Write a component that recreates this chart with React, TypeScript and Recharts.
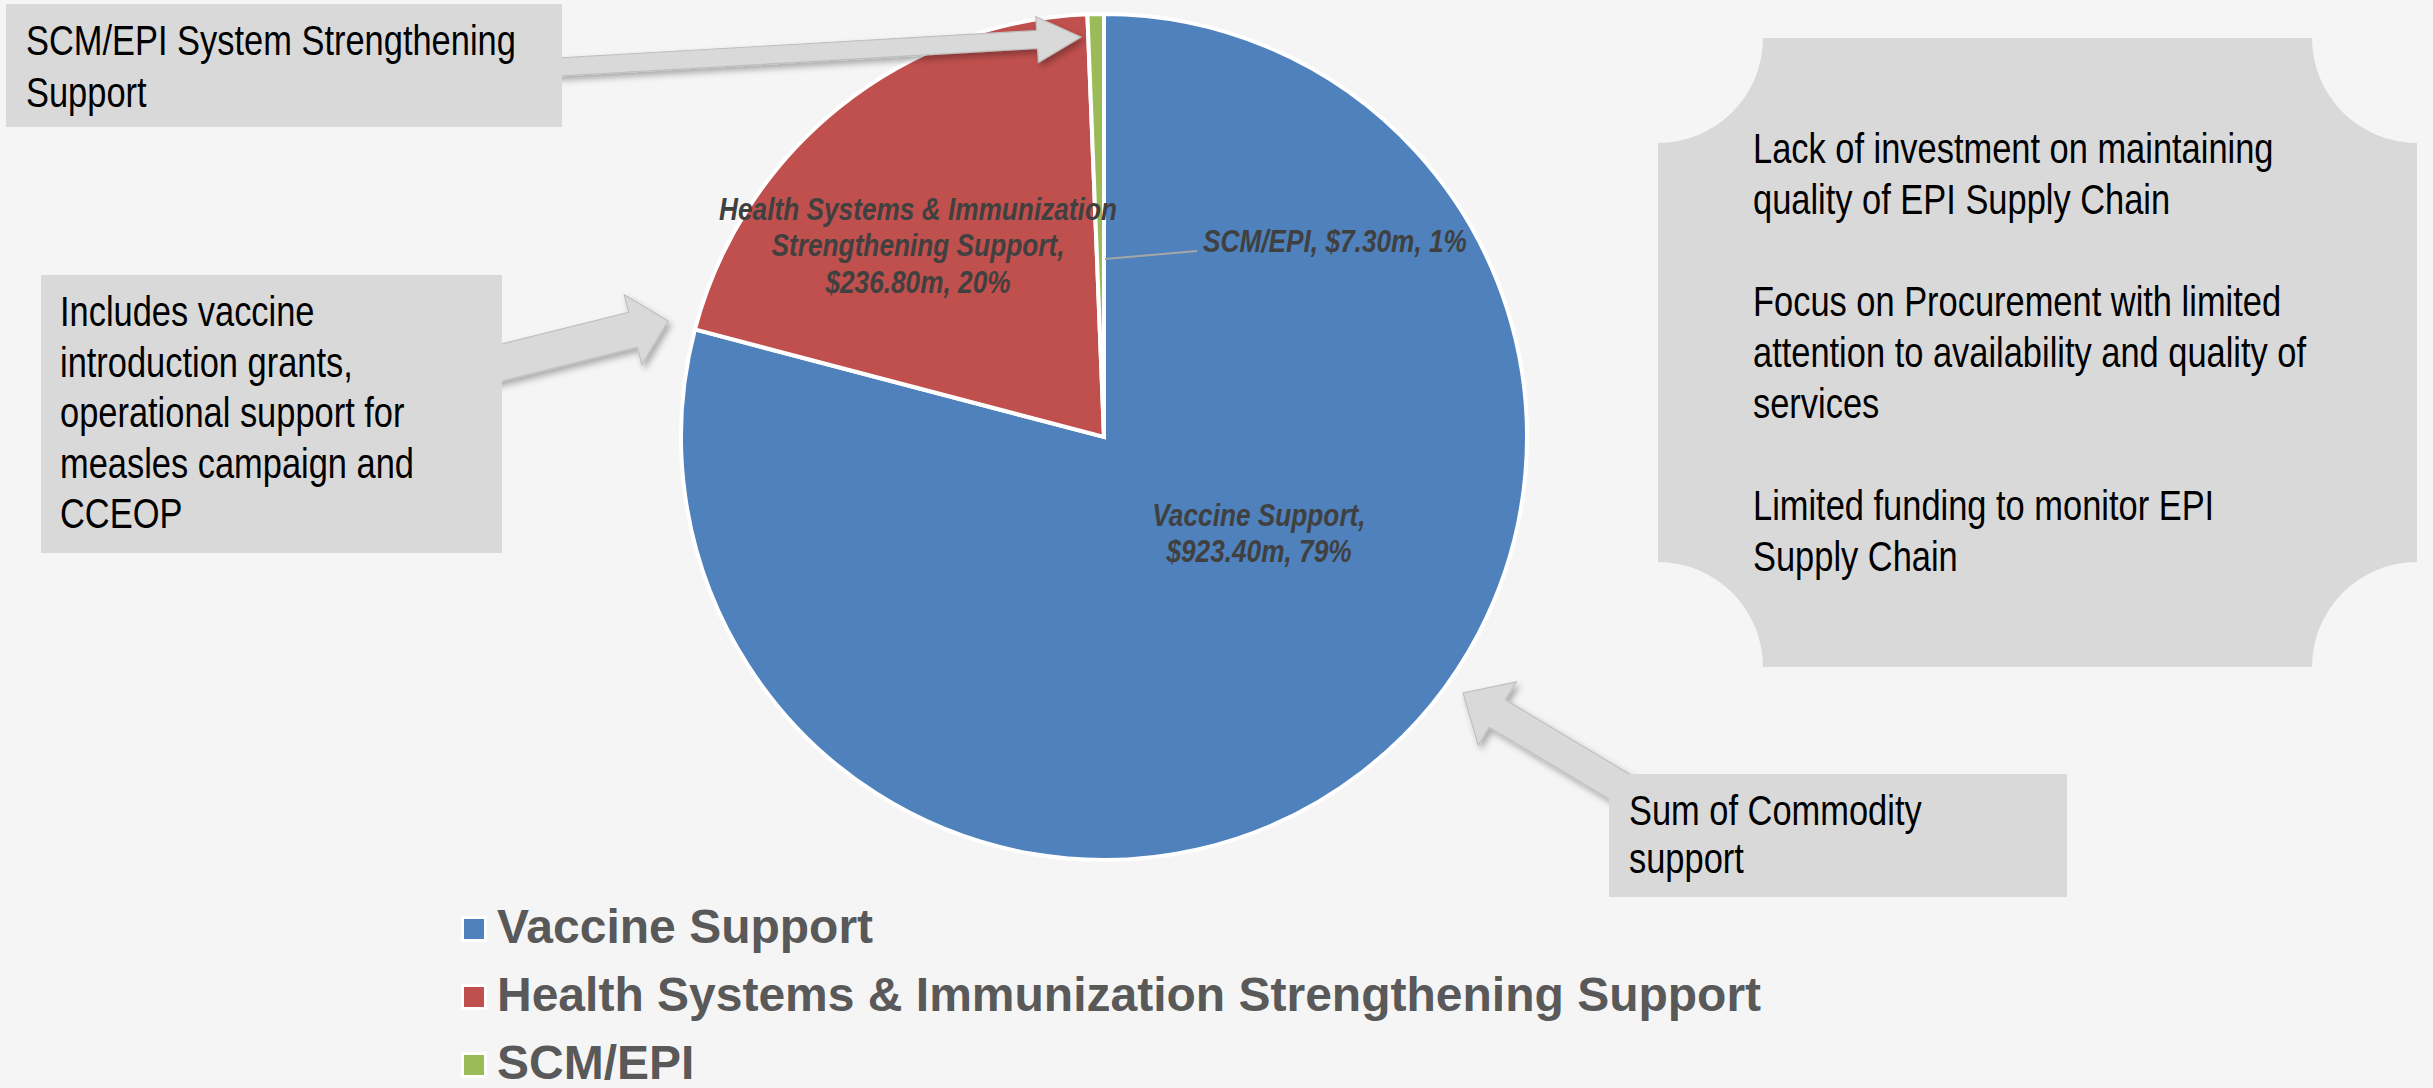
import React from "react";
import { PieChart, Pie, Cell, Legend } from "recharts";

const categories = [
  "Vaccine Support",
  "Health Systems & Immunization Strengthening Support",
  "SCM/EPI",
];
const amounts = [923.4, 236.8, 7.3];
const colors = ["#4f81bd", "#c0504d", "#9bbb59"];

// how each data label wraps (name part), value + percent is appended
const labelWrap = [
  ["Vaccine Support,"],
  ["Health Systems & Immunization", "Strengthening Support,"],
  ["SCM/EPI,"],
];

const W = 2433;
const H = 1088;
const SANS = "'Liberation Sans', Arial, sans-serif";
// no narrow face installed: squeeze Liberation Sans horizontally
const NARROW_X = 0.82;

const data = categories.map((name, i) => ({ name, value: amounts[i] }));

// label placement relative to the pie centre (px)
const labelPos = [
  { dx: 155, dy: 89, anchor: "middle", inline: false },
  { dx: -186, dy: -217, anchor: "middle", inline: false },
  { dx: 99, dy: -185, anchor: "start", inline: true },
];

const squeeze = (x: number) => `translate(${x} 0) scale(${NARROW_X} 1) translate(${-x} 0)`;

const renderLabel = (props: any) => {
  const { cx, cy, index, value, percent } = props;
  const p = labelPos[index];
  const money = `$${Number(value).toFixed(2)}m, ${Math.round(percent * 100)}%`;
  const name = labelWrap[index];
  const lines = p.inline ? [`${name.join(" ")} ${money}`] : [...name, money];
  const x = cx + p.dx;
  return (
    <g key={`lbl-${index}`}>
      {index === 2 && (
        <polyline
          points={`${cx + 1},${cy - 178} ${cx + 93},${cy - 186}`}
          fill="none"
          stroke="#a6a6a6"
          strokeWidth={2}
        />
      )}
      <text
        x={x}
        y={cy + p.dy}
        transform={squeeze(x)}
        textAnchor={p.anchor as any}
        fill="#404040"
        fontFamily={SANS}
        fontSize={32}
        fontWeight="bold"
        fontStyle="italic"
      >
        {lines.map((l, k) => (
          <tspan key={k} x={x} dy={k === 0 ? 0 : 36.5}>
            {l}
          </tspan>
        ))}
      </text>
    </g>
  );
};

const renderLegend = (props: any) => {
  const payload = [...(props.payload || [])].sort(
    (a: any, b: any) => categories.indexOf(a.value) - categories.indexOf(b.value)
  );
  return (
    <div style={{ fontFamily: SANS, fontWeight: "bold", fontSize: 48, color: "#595959" }}>
      {payload.map((entry: any, i: number) => (
        <div key={i} style={{ display: "flex", alignItems: "center", height: 68 }}>
          <span
            style={{
              display: "inline-block",
              width: 20,
              height: 20,
              background: entry.color,
              border: "3.5px solid #ffffff",
              marginRight: 10,
              marginTop: 4,
            }}
          />
          <span style={{ lineHeight: "68px" }}>{entry.value}</span>
        </div>
      ))}
    </div>
  );
};

type Pt = [number, number];
const arrowPath = (tail: Pt, tip: Pt, shaftW: number, headW: number, headL: number) => {
  const vx = tip[0] - tail[0];
  const vy = tip[1] - tail[1];
  const len = Math.hypot(vx, vy);
  const ux = vx / len;
  const uy = vy / len;
  const nx = -uy;
  const ny = ux;
  const bx = tip[0] - ux * headL;
  const by = tip[1] - uy * headL;
  const s = shaftW / 2;
  const h = headW / 2;
  const pts: Pt[] = [
    [tail[0] + nx * s, tail[1] + ny * s],
    [bx + nx * s, by + ny * s],
    [bx + nx * h, by + ny * h],
    tip,
    [bx - nx * h, by - ny * h],
    [bx - nx * s, by - ny * s],
    [tail[0] - nx * s, tail[1] - ny * s],
  ];
  return "M" + pts.map((p) => `${p[0].toFixed(1)},${p[1].toFixed(1)}`).join(" L") + " Z";
};

const plaquePath = (x0: number, y0: number, x1: number, y1: number, r: number) =>
  `M${x0 + r},${y0} L${x1 - r},${y0} A${r} ${r} 0 0 0 ${x1},${y0 + r} L${x1},${y1 - r} ` +
  `A${r} ${r} 0 0 0 ${x1 - r},${y1} L${x0 + r},${y1} A${r} ${r} 0 0 0 ${x0},${y1 - r} ` +
  `L${x0},${y0 + r} A${r} ${r} 0 0 0 ${x0 + r},${y0} Z`;

const boxText = (x: number, baselines: number[], lines: string[]) => (
  <text x={x} transform={squeeze(x)} fontFamily={SANS} fontSize={42} fill="#000000">
    {lines.map((l, i) => (
      <tspan key={i} x={x} y={baselines[i]}>
        {l}
      </tspan>
    ))}
  </text>
);

export default function App() {
  return (
    <div
      style={{
        position: "absolute",
        left: 0,
        top: 0,
        width: W,
        height: H,
        background: "#f5f5f5",
        overflow: "hidden",
      }}
    >
      <PieChart width={W} height={H} margin={{ top: 0, right: 0, bottom: 0, left: 0 }}>
        <Pie
          data={data}
          dataKey="value"
          nameKey="name"
          cx={1104}
          cy={437}
          outerRadius={423}
          startAngle={90}
          endAngle={-270}
          stroke="#ffffff"
          strokeWidth={4}
          label={renderLabel}
          labelLine={false}
          isAnimationActive={false}
        >
          {data.map((_, i) => (
            <Cell key={i} fill={colors[i]} />
          ))}
        </Pie>
        <Legend
          layout="horizontal"
          verticalAlign="middle"
          align="center"
          content={renderLegend}
          wrapperStyle={{ left: 461, top: 893, width: "auto", height: "auto" }}
        />
      </PieChart>

      <svg
        width={W}
        height={H}
        style={{ position: "absolute", left: 0, top: 0, pointerEvents: "none" }}
      >
        <defs>
          <filter id="shadow" x="-20%" y="-20%" width="140%" height="140%">
            <feDropShadow dx={3} dy={4} stdDeviation={3} floodColor="#000000" floodOpacity={0.3} />
          </filter>
        </defs>

        <g fill="#d9d9d9" stroke="#bfbfbf" strokeWidth={1.2} filter="url(#shadow)">
          <path d={arrowPath([540, 68], [1081, 37], 18, 46, 44)} />
          <path d={arrowPath([480, 368], [668, 321], 36, 72, 36)} />
          <path d={arrowPath([1650, 805], [1463, 693], 32, 74, 40)} />
        </g>

        <rect x={6} y={4} width={556} height={123} fill="#d9d9d9" />
        {boxText(26, [55, 107], ["SCM/EPI System Strengthening", "Support"])}

        <rect x={41} y={275} width={461} height={278} fill="#d9d9d9" />
        {boxText(60, [326, 377, 427, 478, 528], [
          "Includes vaccine",
          "introduction grants,",
          "operational support for",
          "measles campaign and",
          "CCEOP",
        ])}

        <path d={plaquePath(1658, 38, 2417, 667, 105)} fill="#d9d9d9" />
        {boxText(1753, [163, 214, 316, 367, 418, 520, 571], [
          "Lack of investment on maintaining",
          "quality of EPI Supply Chain",
          "Focus on Procurement with limited",
          "attention to availability and quality of",
          "services",
          "Limited funding to monitor EPI",
          "Supply Chain",
        ])}

        <rect x={1609} y={774} width={458} height={123} fill="#d9d9d9" />
        {boxText(1629, [825, 873], ["Sum of Commodity", "support"])}
      </svg>
    </div>
  );
}
